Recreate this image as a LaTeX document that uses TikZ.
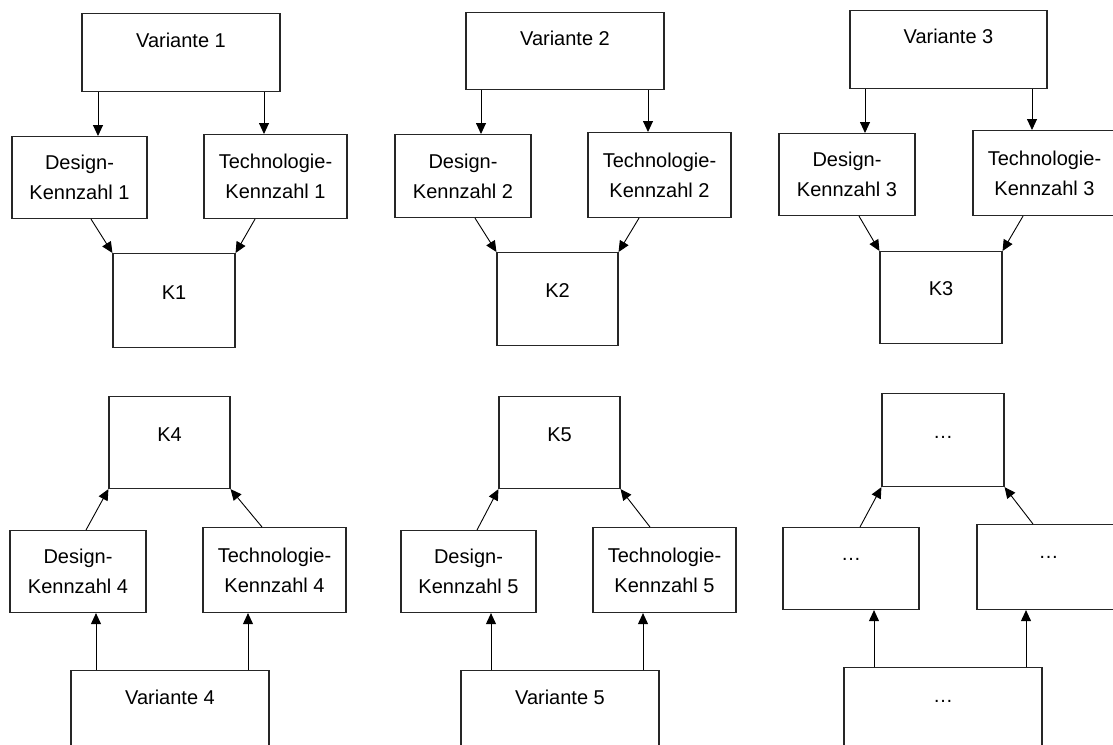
\documentclass[tikz,border=0pt]{standalone}
\usepackage{fontspec}
\setmainfont{Liberation Sans}
\usetikzlibrary{arrows.meta}

\tikzset{
  box/.style={draw=black!85, line width=1.1pt, inner sep=0pt, anchor=north,
              font=\fontsize{20}{30}\selectfont},
  % single-line box: width, baseline below top, depth below baseline
  onebox/.style n args={3}{box, minimum width=#1, text height=#2, text depth=#3},
  % two-line box, text centred
  twobox/.style 2 args={box, align=center, minimum width=#1, minimum height=#2},
  arr/.style={line width=0.9pt, -{Triangle[length=11pt,width=10pt]}}
}

\begin{document}
\begin{tikzpicture}[x=1pt,y=-1pt]
\path[use as bounding box, clip] (0,0) rectangle (1113,744);

% ---------- Variante 1 ----------
\node[onebox={198pt}{34pt}{44pt}] (v1) at (181,13) {Variante 1};
\node[twobox={135pt}{82pt}] (d1) at (79.5,136) {Design-\\Kennzahl 1};
\node[twobox={143pt}{84pt}] (t1) at (275.5,134) {Technologie-\\Kennzahl 1};
\node[onebox={122pt}{46pt}{48pt}] (k1) at (174,253) {K1};
\coordinate (v1a) at ([xshift=-83pt]v1.south);
\coordinate (v1b) at ([xshift=83pt]v1.south);
\draw[arr] (v1a) -- (v1a |- d1.north);
\draw[arr] (v1b) -- (v1b |- t1.north);
\draw[arr] ([xshift=11.5pt]d1.south) -- (k1.north west);
\draw[arr] ([xshift=-20.5pt]t1.south) -- (k1.north east);

% ---------- Variante 2 ----------
\node[onebox={198pt}{33pt}{44pt}] (v2) at (565,12) {Variante 2};
\node[twobox={136pt}{83pt}] (d2) at (463,134) {Design-\\Kennzahl 2};
\node[twobox={143pt}{85pt}] (t2) at (659.5,132) {Technologie-\\Kennzahl 2};
\node[onebox={121pt}{45pt}{48pt}] (k2) at (557.5,252) {K2};
\coordinate (v2a) at ([xshift=-84pt]v2.south);
\coordinate (v2b) at ([xshift=83pt]v2.south);
\draw[arr] (v2a) -- (v2a |- d2.north);
\draw[arr] (v2b) -- (v2b |- t2.north);
\draw[arr] ([xshift=12pt]d2.south) -- (k2.north west);
\draw[arr] ([xshift=-20.5pt]t2.south) -- (k2.north east);

% ---------- Variante 3 ----------
\node[onebox={197pt}{33pt}{45pt}] (v3) at (948.5,10) {Variante 3};
\node[twobox={136pt}{82pt}] (d3) at (847,133) {Design-\\Kennzahl 3};
\node[twobox={143pt}{85pt}] (t3) at (1044.5,130) {Technologie-\\Kennzahl 3};
\node[onebox={122pt}{44pt}{48pt}] (k3) at (941,251) {K3};
\coordinate (v3a) at ([xshift=-83.5pt]v3.south);
\coordinate (v3b) at ([xshift=83.5pt]v3.south);
\draw[arr] (v3a) -- (v3a |- d3.north);
\draw[arr] (v3b) -- (v3b |- t3.north);
\draw[arr] ([xshift=12pt]d3.south) -- (k3.north west);
\draw[arr] ([xshift=-21.5pt]t3.south) -- (k3.north east);

% ---------- Variante 4 ----------
\node[onebox={121pt}{45pt}{47pt}] (k4) at (169.5,396) {K4};
\node[twobox={136pt}{82pt}] (d4) at (78,530) {Design-\\Kennzahl 4};
\node[twobox={143pt}{85pt}] (t4) at (274.5,527) {Technologie-\\Kennzahl 4};
\node[onebox={198pt}{34pt}{44pt}] (v4) at (170,670) {Variante 4};
\coordinate (v4a) at ([xshift=-74pt]v4.north);
\coordinate (v4b) at ([xshift=78pt]v4.north);
\draw[arr] (v4a) -- (v4a |- d4.south);
\draw[arr] (v4b) -- (v4b |- t4.south);
\draw[arr] ([xshift=8pt]d4.north) -- (k4.south west);
\draw[arr] ([xshift=-12.5pt]t4.north) -- (k4.south east);

% ---------- Variante 5 ----------
\node[onebox={121pt}{45pt}{47pt}] (k5) at (559.5,396) {K5};
\node[twobox={135pt}{82pt}] (d5) at (468.5,530) {Design-\\Kennzahl 5};
\node[twobox={143pt}{85pt}] (t5) at (664.5,527) {Technologie-\\Kennzahl 5};
\node[onebox={198pt}{34pt}{44pt}] (v5) at (560,670) {Variante 5};
\coordinate (v5a) at ([xshift=-69pt]v5.north);
\coordinate (v5b) at ([xshift=83pt]v5.north);
\draw[arr] (v5a) -- (v5a |- d5.south);
\draw[arr] (v5b) -- (v5b |- t5.south);
\draw[arr] ([xshift=8.5pt]d5.north) -- (k5.south west);
\draw[arr] ([xshift=-14.5pt]t5.north) -- (k5.south east);

% ---------- further variants ----------
\node[onebox={122pt}{45pt}{48pt}] (k6) at (943,393) {…};
\node[onebox={136pt}{33pt}{49pt}] (l6) at (851,527) {…};
\node[onebox={143pt}{34pt}{51pt}] (r6) at (1048.5,524) {…};
\node[onebox={198pt}{35pt}{43pt}] (b6) at (943,667) {…};
\coordinate (b6a) at ([xshift=-69pt]b6.north);
\coordinate (b6b) at ([xshift=83pt]b6.north);
\draw[arr] (b6a) -- (b6a |- l6.south);
\draw[arr] (b6b) -- (b6b |- r6.south);
\draw[arr] ([xshift=9pt]l6.north) -- (k6.south west);
\draw[arr] ([xshift=-15.5pt]r6.north) -- (k6.south east);
\end{tikzpicture}
\end{document}
